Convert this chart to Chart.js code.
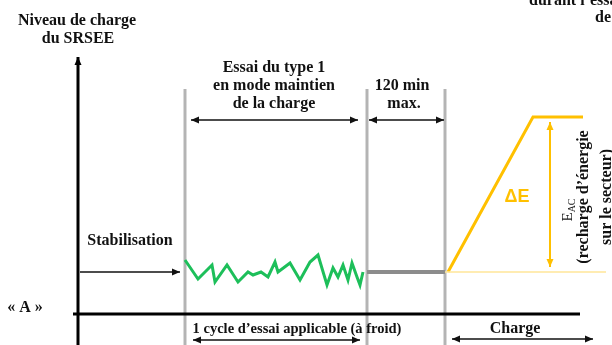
<!DOCTYPE html>
<html>
<head>
<meta charset="utf-8">
<script src="https://cdn.jsdelivr.net/npm/chart.js@4/dist/chart.umd.min.js"></script>
<style>
  html, body { margin: 0; padding: 0; background: #fff; }
  #wrap { width: 612px; height: 345px; }
</style>
</head>
<body>
<div id="wrap"><canvas id="diagram" width="612" height="345"></canvas></div>
<script>
// time axis (x) and charge level (y), level 0 = the « A » baseline
const waveTime = [185, 198, 212, 215, 227, 238, 248, 253, 261, 268, 275, 278, 290, 300, 310, 318, 327, 333, 338, 343, 348, 352, 357, 360, 363];
const waveLevel = [54, 35, 49, 32, 49, 32, 42, 39, 42, 37, 52, 42, 51, 34, 52, 59, 29, 46, 37, 49, 34, 51, 37, 29, 42];

const holdTime = [367, 445];
const holdLevel = [42, 42];

const chargeTime = [448, 533, 583];
const chargeLevel = [42, 197, 197];

const startLevelTime = [445, 606];
const startLevel = [42, 42];

const phaseBounds = [185, 367, 445];
const phaseTop = 225;

const toPoints = (xs, ys) => xs.map((x, i) => ({ x, y: ys[i] }));

const lineSet = (data, color, width) => ({
  data,
  borderColor: color,
  borderWidth: width,
  pointRadius: 0,
  tension: 0,
  fill: false,
  showLine: true,
});

const SERIF = 'bold 16px "Liberation Serif", "Times New Roman", serif';

const arrow = (ctx, x1, y1, x2, y2, color, width, both) => {
  const head = (xa, ya, xb, yb) => {
    const a = Math.atan2(yb - ya, xb - xa);
    ctx.beginPath();
    ctx.moveTo(xb, yb);
    ctx.lineTo(xb - 8 * Math.cos(a) + 3.5 * Math.sin(a), yb - 8 * Math.sin(a) - 3.5 * Math.cos(a));
    ctx.lineTo(xb - 8 * Math.cos(a) - 3.5 * Math.sin(a), yb - 8 * Math.sin(a) + 3.5 * Math.cos(a));
    ctx.closePath();
    ctx.fill();
  };
  ctx.save();
  ctx.strokeStyle = color;
  ctx.fillStyle = color;
  ctx.lineWidth = width;
  ctx.beginPath();
  ctx.moveTo(x1, y1);
  ctx.lineTo(x2, y2);
  ctx.stroke();
  head(x1, y1, x2, y2);
  if (both) head(x2, y2, x1, y1);
  ctx.restore();
};

const label = (ctx, text, x, y, align = "center", font = SERIF, color = "#111") => {
  ctx.save();
  ctx.font = font;
  ctx.fillStyle = color;
  ctx.textAlign = align;
  ctx.textBaseline = "alphabetic";
  ctx.fillText(text, x, y);
  ctx.restore();
};

const diagramPlugin = {
  id: "diagram",
  beforeDatasetsDraw(chart) {
    const { ctx, scales } = chart;
    const px = (v) => scales.x.getPixelForValue(v);
    const py = (v) => scales.y.getPixelForValue(v);

    // phase boundaries
    ctx.save();
    ctx.strokeStyle = "#b4b4b4";
    ctx.lineWidth = 3;
    phaseBounds.forEach((t) => {
      ctx.beginPath();
      ctx.moveTo(px(t), py(phaseTop));
      ctx.lineTo(px(t), chart.height);
      ctx.stroke();
    });
    ctx.restore();

    // axes
    arrow(ctx, px(78), chart.height, px(78), py(257), "#000", 3, false);
    ctx.save();
    ctx.strokeStyle = "#000";
    ctx.lineWidth = 3;
    ctx.beginPath();
    ctx.moveTo(px(73), py(0));
    ctx.lineTo(px(580), py(0));
    ctx.stroke();
    ctx.restore();
  },
  afterDatasetsDraw(chart) {
    const { ctx, scales } = chart;
    const px = (v) => scales.x.getPixelForValue(v);
    const py = (v) => scales.y.getPixelForValue(v);

    // phase arrows
    arrow(ctx, px(191), py(194), px(358), py(194), "#111", 1.5, true);
    arrow(ctx, px(369), py(194), px(444), py(194), "#111", 1.5, true);
    arrow(ctx, px(80), py(42), px(180), py(42), "#111", 1.5, false);
    arrow(ctx, px(193), py(-26), px(360), py(-26), "#111", 1.5, true);
    arrow(ctx, px(452), py(-25), px(593), py(-25), "#111", 1.5, true);
    arrow(ctx, px(550), py(192), px(550), py(47), "#ffc000", 2, true);

    // texts
    label(ctx, "Niveau de charge", px(77), 25);
    label(ctx, "du SRSEE", px(78), 43);
    label(ctx, "Essai du type 1", px(274), 72);
    label(ctx, "en mode maintien", px(274), 90);
    label(ctx, "de la charge", px(274), 108);
    label(ctx, "120 min", px(402), 90);
    label(ctx, "max.", px(404), 108);
    label(ctx, "Stabilisation", px(130), 245);
    label(ctx, "« A »", px(25), 312);
    label(ctx, "1 cycle d\u2019essai applicable (à froid)", px(297), 333, "center",
      'bold 14.5px "Liberation Serif", "Times New Roman", serif');
    label(ctx, "Charge", px(515), 333);
    label(ctx, "durant l\u2019essai", px(529), 5, "left");
    label(ctx, "de", px(595), 22, "left");
    label(ctx, "\u0394E", px(517), 202, "center", 'bold 18px "Liberation Sans", Arial, sans-serif', "#ffc000");

    // rotated E_AC note
    const serifPlain = (size) => `${size}px "Liberation Serif", "Times New Roman", serif`;
    ctx.save();
    ctx.translate(px(572), py(104));
    ctx.rotate(-Math.PI / 2);
    ctx.fillStyle = "#111";
    ctx.textBaseline = "alphabetic";
    ctx.font = serifPlain(15);
    const wE = ctx.measureText("E").width;
    ctx.font = serifPlain(10);
    const wAC = ctx.measureText("AC").width;
    const start = -(wE + wAC) / 2;
    ctx.font = serifPlain(15);
    ctx.textAlign = "left";
    ctx.fillText("E", start, 0);
    ctx.font = serifPlain(10);
    ctx.fillText("AC", start + wE, 3);
    ctx.restore();

    ctx.save();
    ctx.translate(px(588), py(117));
    ctx.rotate(-Math.PI / 2);
    ctx.font = SERIF;
    ctx.fillStyle = "#111";
    ctx.textAlign = "center";
    ctx.fillText("(recharge d\u2019énergie", 0, 0);
    ctx.fillText("sur le secteur)", 0, 23);
    ctx.restore();
  },
};

new Chart("diagram", {
  type: "scatter",
  data: {
    datasets: [
      lineSet(toPoints(startLevelTime, startLevel), "#ffe699", 1.5),
      lineSet(toPoints(holdTime, holdLevel), "#8c8c8c", 4),
      lineSet(toPoints(waveTime, waveLevel), "#1dbf5a", 3),
      lineSet(toPoints(chargeTime, chargeLevel), "#ffc000", 3),
    ],
  },
  options: {
    responsive: false,
    animation: false,
    events: [],
    layout: { padding: 0 },
    plugins: {
      legend: { display: false },
      tooltip: { enabled: false },
    },
    scales: {
      x: { type: "linear", min: 0, max: 612, display: false },
      y: { type: "linear", min: -31, max: 314, display: false },
    },
  },
  plugins: [diagramPlugin],
});
</script>
</body>
</html>
